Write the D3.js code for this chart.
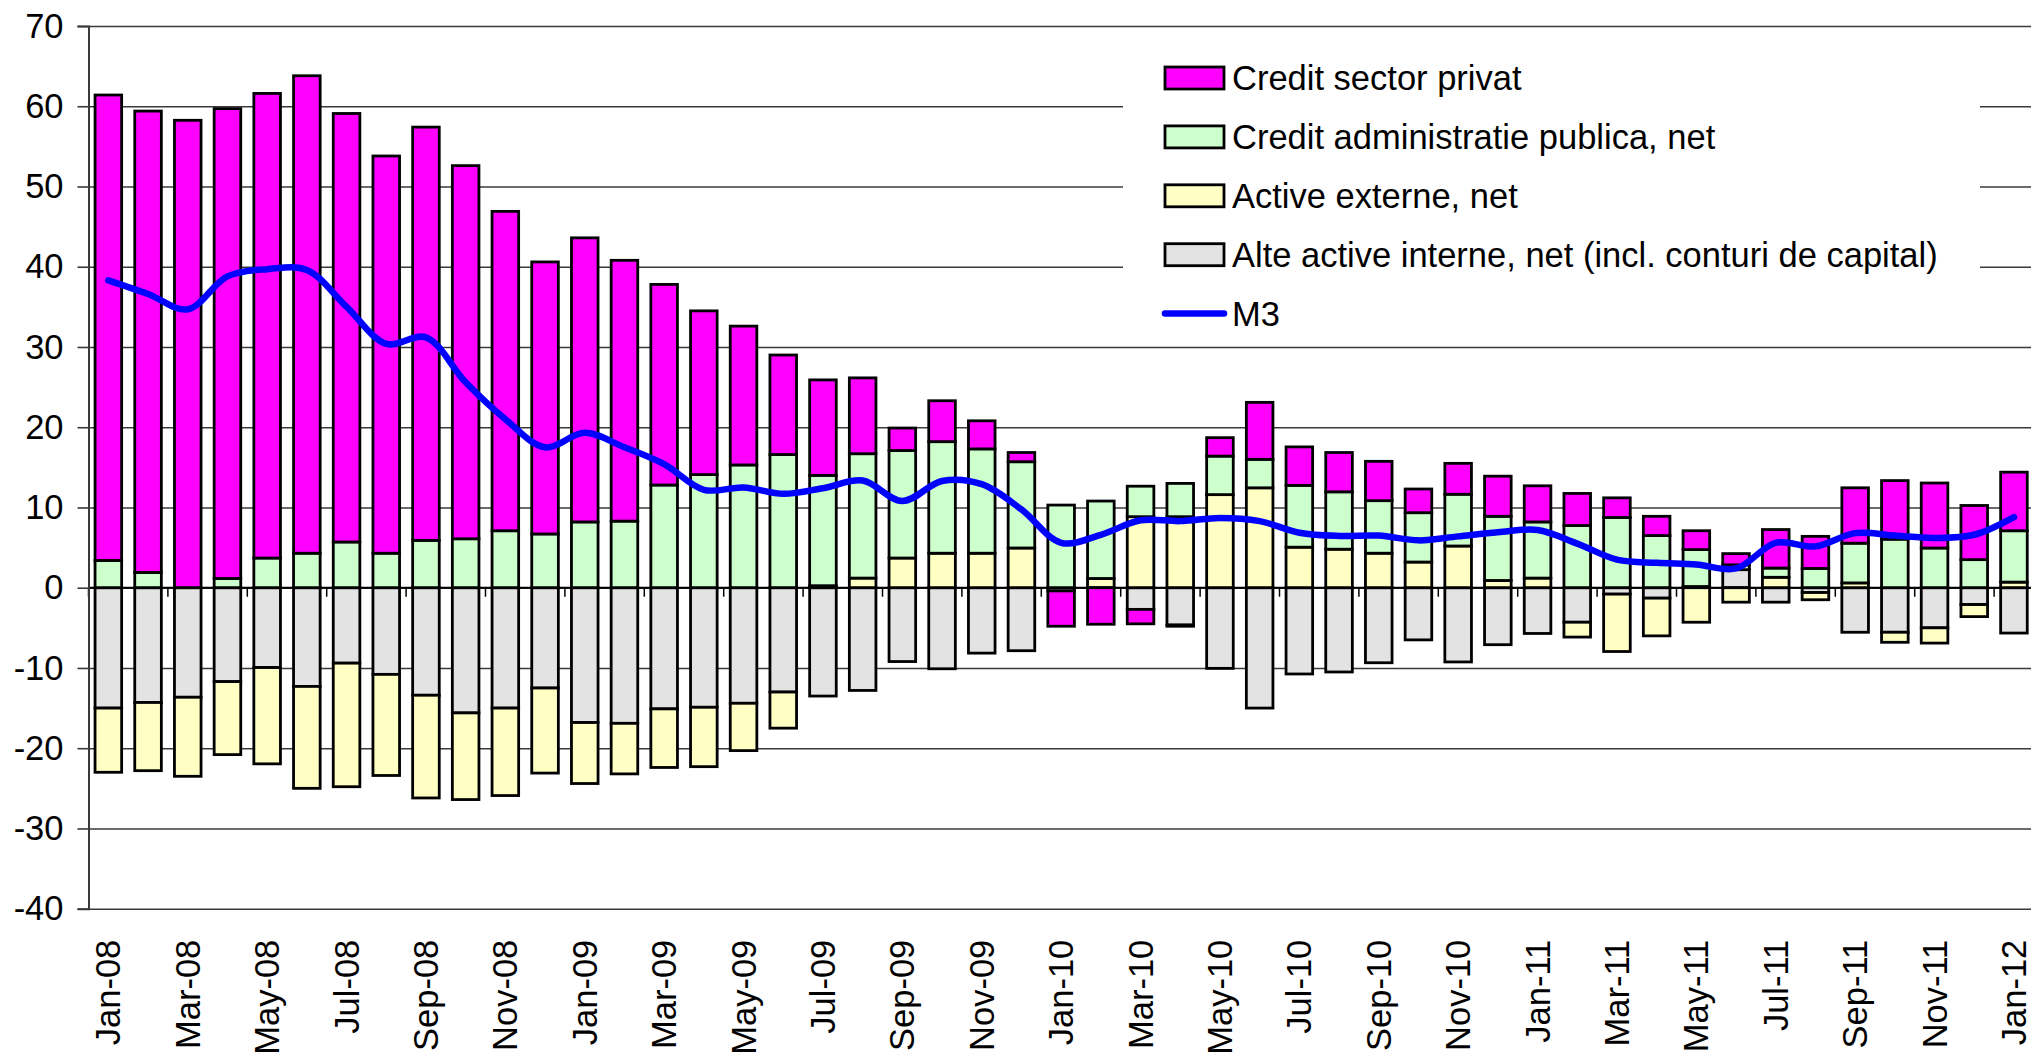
<!DOCTYPE html>
<html>
<head>
<meta charset="utf-8">
<script src="https://cdn.jsdelivr.net/npm/d3@7"></script>
<style>
    body { margin: 0; background: #fff; overflow: hidden; }
    svg { display: block; font-family: "Liberation Sans", Arial, sans-serif; }
</style>
</head>
<body>
<svg id="chart" width="2031" height="1052"></svg>
<script>
// months Jan-08 .. Jan-12
var months = ["Jan-08","Feb-08","Mar-08","Apr-08","May-08","Jun-08","Jul-08","Aug-08","Sep-08","Oct-08","Nov-08","Dec-08",
    "Jan-09","Feb-09","Mar-09","Apr-09","May-09","Jun-09","Jul-09","Aug-09","Sep-09","Oct-09","Nov-09","Dec-09",
    "Jan-10","Feb-10","Mar-10","Apr-10","May-10","Jun-10","Jul-10","Aug-10","Sep-10","Oct-10","Nov-10","Dec-10",
    "Jan-11","Feb-11","Mar-11","Apr-11","May-11","Jun-11","Jul-11","Aug-11","Sep-11","Oct-11","Nov-11","Dec-11",
    "Jan-12"];

// contributions (pp)
var alteActive = [-15.0,-14.3,-13.65,-11.7,-9.95,-12.3,-9.4,-10.8,-13.4,-15.6,-15.0,-12.5,
    -16.8,-16.9,-15.1,-14.9,-14.4,-13.0,-13.5,-12.8,-9.2,-10.1,-8.15,-7.85,
    -0.4,0,-2.7,-4.65,-10.05,-15.0,-10.75,-10.5,-9.35,-6.5,-9.25,-7.1,
    -5.7,-4.3,-0.8,-1.3,0.15,2.25,-1.8,-0.6,-5.55,-5.55,-5.0,-2.1,
    -5.65];
var activeExterne = [-8.0,-8.5,-9.85,-9.1,-12.0,-12.7,-15.4,-12.6,-12.8,-10.8,-10.9,-10.6,
    -7.6,-6.3,-7.3,-7.4,-5.9,-4.5,0.25,1.2,3.7,4.3,4.3,4.95,
    0,1.15,8.85,8.85,11.6,12.45,5.05,4.8,4.3,3.2,5.2,0.9,
    1.2,-1.85,-7.15,-4.7,-4.3,-1.8,1.3,-0.9,0.6,-1.25,-1.9,-1.5,
    0.7];
var creditAdmin = [3.4,1.9,0,1.15,3.7,4.3,5.7,4.3,5.9,6.1,7.1,6.7,
    8.2,8.3,12.8,14.1,15.3,16.6,13.75,15.5,13.4,13.9,13.0,10.75,
    10.3,9.65,3.8,4.15,4.8,3.55,7.7,7.15,6.55,6.15,6.45,8.0,
    7.0,7.75,8.75,6.5,4.6,0.6,1.15,2.4,4.95,6.05,4.95,3.5,
    6.4];
var creditPrivat = [58.0,57.5,58.25,58.55,57.9,59.5,53.4,49.5,51.5,46.5,39.8,33.9,
    35.4,32.5,25.0,20.4,17.3,12.4,11.9,9.45,2.8,5.1,3.5,1.15,
    -4.4,-4.55,-1.8,-0.15,2.3,7.1,4.8,4.9,4.9,2.95,3.85,5.0,
    4.5,4.0,2.45,2.4,2.35,1.4,4.8,4.0,6.9,7.3,8.1,6.75,
    7.3];
var m3 = [38.3,36.6,34.7,38.8,39.7,39.6,35.0,30.4,31.2,25.6,21.0,17.5,
    19.3,17.5,15.4,12.2,12.5,11.7,12.4,13.35,10.8,13.3,12.9,9.75,
    5.6,6.6,8.4,8.3,8.7,8.3,6.85,6.45,6.5,5.9,6.4,6.9,
    7.2,5.5,3.5,3.1,2.9,2.4,5.6,5.15,6.8,6.5,6.2,6.6,
    8.8];

var yTicks = [-40,-30,-20,-10,0,10,20,30,40,50,60,70];

var series = [
    {key: "alte", label: "Alte active interne, net (incl. conturi de capital)", color: "#e3e3e3", values: alteActive},
    {key: "externe", label: "Active externe, net", color: "#ffffc4", values: activeExterne},
    {key: "admin", label: "Credit administratie publica, net", color: "#ccffcc", values: creditAdmin},
    {key: "privat", label: "Credit sector privat", color: "#ff00ff", values: creditPrivat}
];

var table = months.map(function(m, i) {
    var row = {month: m};
    series.forEach(function(s) { row[s.key] = s.values[i]; });
    return row;
});

var svg = d3.select("#chart");
var plotLeft = 88.5, plotTop = 26, plotBottom = 908.7, step = 39.7;
var plotRight = plotLeft + step * months.length;

var x = d3.scaleBand().domain(months).range([plotLeft, plotRight]).paddingInner(0.33).paddingOuter(0.165);
var y = d3.scaleLinear().domain([-40, 70]).range([plotBottom, plotTop]);

// gridlines
svg.append("g")
    .attr("transform", "translate(" + plotLeft + ",0)")
    .call(d3.axisLeft(y).tickValues(yTicks).tickSize(-(plotRight - plotLeft)).tickFormat(""))
    .call(function(g) { g.select(".domain").remove(); })
    .selectAll("line")
    .attr("stroke", "#3a3a3a")
    .attr("stroke-width", 1.6);

// legend background cuts the gridlines
svg.append("rect")
    .attr("x", 1123).attr("y", 42)
    .attr("width", 857).attr("height", 292)
    .attr("fill", "#fff");

// stacked bars
var stacked = d3.stack()
    .keys(series.map(function(s) { return s.key; }))
    .offset(d3.stackOffsetDiverging)(table);

svg.append("g").selectAll("g")
    .data(stacked)
    .join("g")
    .attr("fill", function(d, i) { return series[i].color; })
    .selectAll("rect")
    .data(function(d) { return d.filter(function(p) { return p[1] - p[0] !== 0; }); })
    .join("rect")
    .attr("x", function(d) { return x(d.data.month); })
    .attr("width", x.bandwidth())
    .attr("y", function(d) { return y(Math.max(d[0], d[1])); })
    .attr("height", function(d) { return Math.abs(y(d[0]) - y(d[1])); })
    .attr("stroke", "#000")
    .attr("stroke-width", 2.8);

// category axis at zero
svg.append("line")
    .attr("x1", plotLeft).attr("x2", plotRight)
    .attr("y1", y(0)).attr("y2", y(0))
    .attr("stroke", "#000").attr("stroke-width", 2);

var gap = (x.step() - x.bandwidth()) / 2;
svg.append("g").selectAll("line")
    .data(months.filter(function(m, i) { return i % 2 === 0; }))
    .join("line")
    .attr("x1", function(d) { return x(d) - gap; })
    .attr("x2", function(d) { return x(d) - gap; })
    .attr("y1", y(0)).attr("y2", y(0) + 9)
    .attr("stroke", "#000").attr("stroke-width", 1.5);

// M3 line
var line = d3.line()
    .x(function(d, i) { return x(months[i]) + x.bandwidth() / 2; })
    .y(function(d) { return y(d); })
    .curve(d3.curveCatmullRom.alpha(0.5));

svg.append("path")
    .datum(m3)
    .attr("d", line)
    .attr("fill", "none")
    .attr("stroke", "#0000ff")
    .attr("stroke-width", 6.5)
    .attr("stroke-linejoin", "round")
    .attr("stroke-linecap", "round");

// y axis (plain hyphen for negatives, like the original)
var yAxis = svg.append("g")
    .attr("transform", "translate(" + plotLeft + ",0)")
    .call(d3.axisLeft(y).tickValues(yTicks).tickSize(11).tickPadding(14)
        .tickFormat(function(d) { return String(d); }));
yAxis.select(".domain").attr("stroke", "#3a3a3a").attr("stroke-width", 2);
yAxis.selectAll("line").attr("stroke", "#3a3a3a").attr("stroke-width", 1.6);
yAxis.selectAll("text")
    .attr("font-family", "'Liberation Sans', Arial, sans-serif")
    .attr("font-size", "34.5px")
    .attr("fill", "#000");

// month labels under the plot
var xAxis = svg.append("g")
    .attr("transform", "translate(0," + plotBottom + ")")
    .call(d3.axisBottom(x).tickValues(months.filter(function(m, i) { return i % 2 === 0; })).tickSize(0));
xAxis.select(".domain").remove();
xAxis.selectAll("text")
    .attr("font-family", "'Liberation Sans', Arial, sans-serif")
    .attr("font-size", "34.5px")
    .attr("fill", "#000")
    .attr("transform", "rotate(-90)")
    .attr("text-anchor", "end")
    .attr("x", -31)
    .attr("y", 0)
    .attr("dy", "0.35em");

// legend
var legendItems = series.slice().reverse().concat([{label: "M3", line: true}]);
var legend = svg.append("g").selectAll("g")
    .data(legendItems)
    .join("g")
    .attr("transform", function(d, i) { return "translate(1165," + (78 + i * 58.9) + ")"; });

legend.filter(function(d) { return !d.line; })
    .append("rect")
    .attr("x", 0).attr("y", -11)
    .attr("width", 59).attr("height", 22)
    .attr("fill", function(d) { return d.color; })
    .attr("stroke", "#000")
    .attr("stroke-width", 2.8);

legend.filter(function(d) { return d.line; })
    .append("line")
    .attr("x1", 0).attr("x2", 59)
    .attr("stroke", "#0000ff")
    .attr("stroke-width", 6.5)
    .attr("stroke-linecap", "round");

legend.append("text")
    .attr("x", 67)
    .attr("dy", "0.35em")
    .attr("font-size", "34.5px")
    .text(function(d) { return d.label; });
</script>
</body>
</html>
